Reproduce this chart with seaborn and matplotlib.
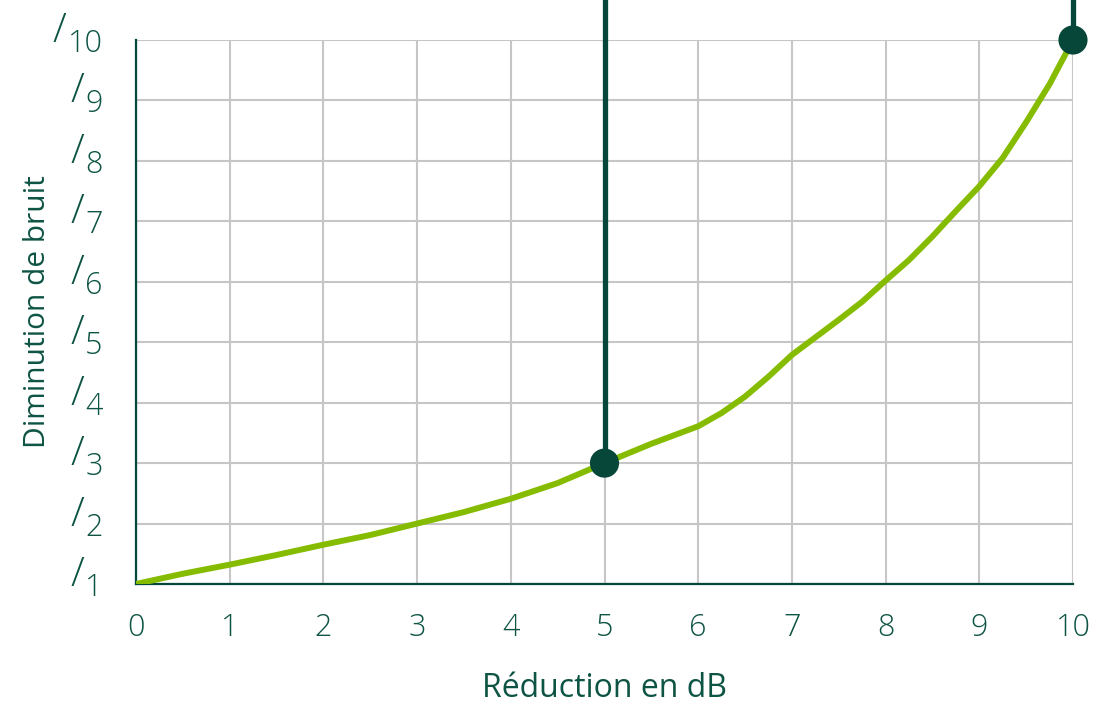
import numpy as np
import pandas as pd
import matplotlib
matplotlib.use("Agg")
import matplotlib.pyplot as plt
import seaborn as sns

# values
reduction_db = [0, 0.5, 1, 1.5, 2, 2.5, 3, 3.5, 4, 4.5, 5, 5.5, 6, 6.25, 6.5, 6.75, 7, 7.25, 7.5, 7.75,
                8, 8.25, 8.5, 8.75, 9, 9.25, 9.5, 9.75, 10]
diminution = [1.0, 1.17, 1.32, 1.48, 1.65, 1.81, 2.0, 2.19, 2.41, 2.67, 3.0, 3.32, 3.61, 3.83, 4.1, 4.43,
              4.79, 5.08, 5.37, 5.67, 6.02, 6.36, 6.75, 7.17, 7.58, 8.05, 8.64, 9.27, 10.0]
marked_x = [5, 10]
marked_y = [3, 10]
x_ticks = list(range(0, 11))
y_ticks = list(range(1, 11))

dark = "#06473A"
text_col = "#0E5444"
lime = "#86BC00"
grid_col = "#C6C6C6"

sns.set_theme(style="white")
plt.rcParams["font.family"] = ["Open Sans", "DejaVu Sans"]
plt.rcParams["font.weight"] = "light"

df = pd.DataFrame({"x": reduction_db, "y": diminution})
pts = pd.DataFrame({"x": marked_x, "y": marked_y})

fig = plt.figure(figsize=(11.15, 7.06), dpi=100)
ax = fig.add_axes([136 / 1115, 1 - 584 / 706, (1073 - 136) / 1115, (584 - 40) / 706])

ax.set_xlim(0, 10)
ax.set_ylim(1, 10)
ax.set_xticks(x_ticks)
ax.set_yticks(y_ticks)
ax.grid(True, color=grid_col, linewidth=1.5, zorder=0)
ax.set_axisbelow(True)

sns.lineplot(data=df, x="x", y="y", color=lime, linewidth=4.3, ax=ax, zorder=3,
             solid_joinstyle="round", solid_capstyle="round")
for xv, yv in zip(marked_x, marked_y):
    ax.plot([xv, xv], [yv, 11.5], color=dark, linewidth=3.8, clip_on=False, zorder=4,
            solid_capstyle="butt")
sns.scatterplot(data=pts, x="x", y="y", color=dark, s=440, edgecolor="none",
                ax=ax, zorder=5, clip_on=False)

for side in ["top", "right"]:
    ax.spines[side].set_visible(False)
for side in ["left", "bottom"]:
    ax.spines[side].set_color(dark)
    ax.spines[side].set_linewidth(1.6)

ax.tick_params(axis="x", colors=dark, direction="out", length=7, width=1.6, pad=13, labelsize=22)
ax.tick_params(axis="y", colors=dark, length=0, pad=24, labelsize=22)
for lab in ax.get_xticklabels() + ax.get_yticklabels():
    lab.set_color(text_col)

ax.set_xlabel("Réduction en dB", fontsize=23, color=text_col)
ax.set_ylabel("Diminution de bruit", fontsize=21.5, color=text_col)
ax.xaxis.set_label_coords(0.5, -0.193)
ax.xaxis.label.set_va("center")
ax.yaxis.set_label_coords(-0.1046, 0.5)
ax.yaxis.label.set_va("center")

# raised slash in front of every y tick number
fig.canvas.draw()
renderer = fig.canvas.get_renderer()
for lab in ax.get_yticklabels():
    bb = lab.get_window_extent(renderer)
    fig.text(bb.x0 - 1, bb.y0 + 8, "/", transform=None, ha="right", va="bottom",
             fontsize=29, color=text_col)

fig.savefig("out.png", dpi=100)
